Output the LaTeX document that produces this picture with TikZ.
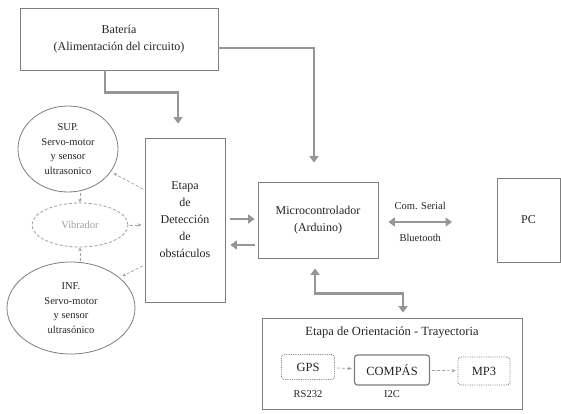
\documentclass[tikz,border=0pt]{standalone}
\usepackage{fontspec}
\setmainfont{Liberation Serif}
\usetikzlibrary{positioning,calc,arrows.meta,shapes.geometric}
\definecolor{diagline}{RGB}{125,125,125}
\definecolor{diagarrow}{RGB}{150,150,150}
\definecolor{diagfaint}{RGB}{160,160,160}
\definecolor{diagtext}{RGB}{35,35,35}

\begin{document}
\begin{tikzpicture}[x=1pt,y=-1pt,
  blockbox/.style={draw=diagline,line width=0.8pt,inner sep=0pt,align=center,font=\fontsize{12}{17}\selectfont,text=diagtext},
  sensorell/.style={ellipse,draw=diagline,line width=0.8pt,inner sep=0pt,align=center,font=\fontsize{10.5}{14.5}\selectfont,text=diagtext},
  smallbox/.style={draw=diagline,rounded corners=3pt,line width=0.8pt,inner sep=0pt,font=\fontsize{12.5}{14}\selectfont,text=diagtext},
  fatarrow/.style={draw=diagarrow,line width=2.8pt,-{Triangle[width=9pt,length=6.5pt]}},
  fatboth/.style={draw=diagarrow,line width=2.8pt,{Triangle[width=9pt,length=6.5pt]}-{Triangle[width=9pt,length=6.5pt]}},
  thinarrow/.style={draw=diagfaint,densely dashed,line width=0.7pt,-{Stealth[length=4pt,width=3.5pt]}},
  tag/.style={font=\fontsize{10.5}{12}\selectfont,text=diagtext,inner sep=1pt}]
  \useasboundingbox (0,0) rectangle (561,413);
  \node[blockbox,minimum width=198pt,minimum height=62pt] (bat) at (119,39) {Batería\\(Alimentación del circuito)};
  \node[blockbox,minimum width=80pt,minimum height=164pt] (det) at (185,220) {Etapa\\de\\Detección\\de\\obstáculos};
  \node[blockbox,minimum width=120pt,minimum height=76pt] (micro) at (318,220) {Microcontrolador\\(Arduino)};
  \node[blockbox,minimum width=63pt,minimum height=84pt] (pc) at (528.5,220) {PC};
  \node[sensorell,minimum width=100pt,minimum height=86pt] (sup) at (68,149) {SUP.\\Servo-motor\\y sensor\\ultrasonico};
  \node[sensorell,draw=diagfaint,densely dashed,text=diagfaint,minimum width=96pt,minimum height=44pt] (vib) at (80,225) {Vibrador};
  \node[sensorell,minimum width=128pt,minimum height=92pt] (inf) at (71,308) {INF.\\Servo-motor\\y sensor\\ultrasónico};
  \node[blockbox,minimum width=260pt,minimum height=91pt] (ori) at (392,363.5) {};
  \node[anchor=north,font=\fontsize{12.5}{14}\selectfont,text=diagtext] (orititle) at ([yshift=-6pt]ori.north) {Etapa de Orientación - Trayectoria};
  \node[smallbox,densely dotted,minimum width=53pt,minimum height=25pt] (gps) at (308,367) {GPS};
  \node[smallbox,line width=1.2pt,minimum width=75pt,minimum height=30pt] (compas) at (392,370) {COMPÁS};
  \node[smallbox,densely dotted,minimum width=52pt,minimum height=28pt] (mp3) at (484,371) {MP3};
  \node[tag,below=9pt of gps] (rs) {RS232};
  \node[tag] (i2c) at (rs -| compas) {I2C};

  \draw[fatarrow,shorten >=14pt] ([xshift=-14pt]bat.south) -- ++(0,22) -| ([xshift=-7pt]det.north);
  \draw[fatarrow,shorten >=19pt] ([yshift=-9pt]bat.east) -| ([xshift=-4pt]micro.north);
  \draw[fatarrow,shorten <=5pt,shorten >=3pt] ([yshift=1pt]det.east) -- ([yshift=1pt]det.east -| micro.west);
  \draw[fatarrow,shorten <=3pt,shorten >=5pt] ([yshift=-25pt]micro.west) -- ([yshift=-25pt]micro.west -| det.east);
  \coordinate (btend) at (452,222);
  \draw[fatboth,shorten <=10pt] (micro.east |- btend) -- (btend)
    node[midway,above=10pt,tag,xshift=5pt] (com) {Com. Serial}
    node[midway,below=10pt,tag,xshift=5pt] (bt) {Bluetooth};
  \draw[fatboth,shorten <=10pt,shorten >=5pt] ([xshift=-3pt]micro.south) -- ++(0,35) -| ([xshift=11pt]ori.north);

  \draw[thinarrow,shorten <=2pt,shorten >=3pt] ([yshift=30pt]det.west) -- (sup.-28);
  \draw[thinarrow,shorten <=2pt,shorten >=3pt] ([yshift=-45pt]det.west) -- (inf.32);
  \draw[thinarrow,shorten <=2pt,shorten >=3pt] (vib.east) -- (vib.east -| det.west);
  \draw[thinarrow,shorten <=1pt] (vib.north |- sup.south) -- (vib.north);
  \draw[thinarrow,shorten <=1pt] (vib.south |- inf.north) -- (vib.south);
  \draw[thinarrow,shorten <=2pt,shorten >=2pt] (gps) -- (compas);
  \draw[thinarrow,shorten <=2pt,shorten >=2pt] (compas) -- (mp3);
\end{tikzpicture}
\end{document}
